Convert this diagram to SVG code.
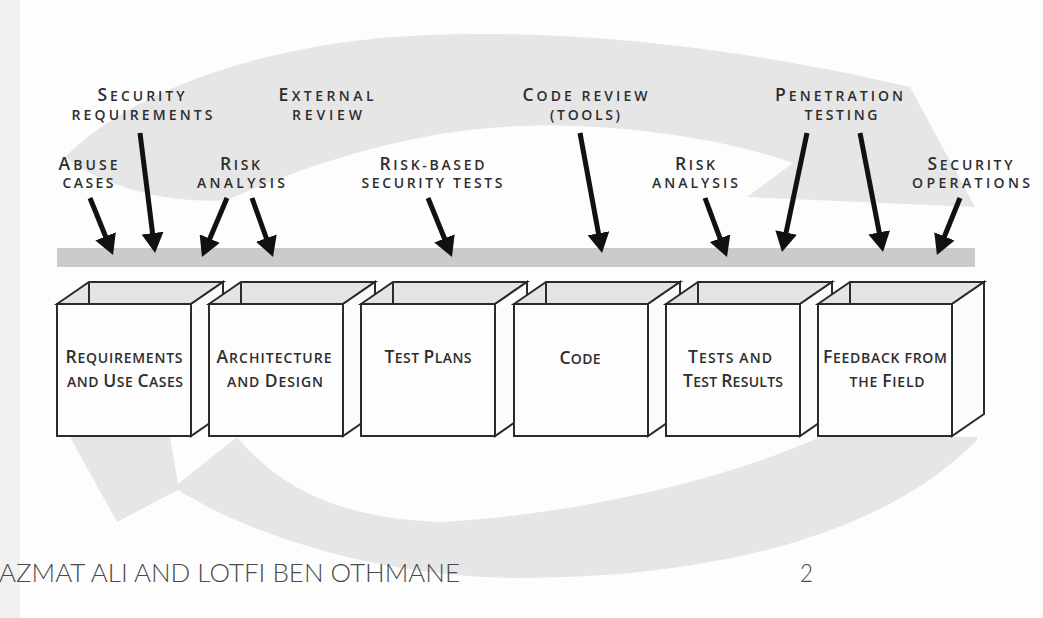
<svg xmlns="http://www.w3.org/2000/svg" width="1043" height="618" viewBox="0 0 1043 618">
  <style>
    .cyc { fill: #e6e6e6; }
    .bar { fill: #cbcbcb; }
    .lbl { font-family: "Open Sans", "Liberation Sans", sans-serif; font-weight: 600; font-size: 14px; fill: #2e2e2e; text-anchor: middle; }
    .lbl .i { font-size: 17.5px; }
    .front { fill: #fdfdfd; stroke: #2b2b2b; stroke-width: 2; stroke-linejoin: miter; }
    .side { fill: #fbfbfb; stroke: #2b2b2b; stroke-width: 2; stroke-linejoin: miter; }
    .top { fill: #e4e4e4; stroke: #2b2b2b; stroke-width: 2; stroke-linejoin: miter; }
    .edge { stroke: #2b2b2b; stroke-width: 2; }
    .arr { stroke: #111; stroke-width: 5; fill: none; marker-end: url(#head); }
    .foot { font-family: "Lato", "Liberation Sans", sans-serif; font-weight: 300; font-size: 26px; fill: #4a4a4a; }
  </style>
  <defs>
    <marker id="head" viewBox="0 0 20 22" refX="2" refY="11" markerWidth="20" markerHeight="22" markerUnits="userSpaceOnUse" orient="auto">
      <path d="M0,0 L20,11 L0,22 Z" fill="#111"/>
    </marker>
  </defs>

  <!-- page -->
  <rect x="0" y="0" width="1043" height="618" fill="#fdfdfd"/>
  <rect x="0" y="0" width="20" height="618" fill="#f1f1f1"/>

  <!-- cycle arrows behind the phases -->
  <g id="cycle">
    <path class="cyc" d="M65,157 C110,112 210,55 380,38 C520,27 700,38 910,87 L975,207 L747,197 L793,163 C700,130 560,118 470,130 C380,140 290,172 227,200 C180,204 110,192 65,157 Z"/>
    <path class="cyc" d="M70,437 L170,437 L178,484 L237,437 C275,482 330,518 440,522 C570,515 720,482 820,437 L977,437 L977,440 C880,540 700,578 520,578 C380,578 250,535 178,490 L117,522 Z"/>
  </g>

  <!-- timeline bar -->
  <rect id="timeline" class="bar" x="57" y="248" width="918" height="19"/>

  <!-- touchpoint labels -->
  <g id="touchpoints">
    <text class="lbl" x="141" y="101" textLength="87"><tspan class="i">S</tspan>ECURITY</text>
    <text class="lbl" x="142" y="120" textLength="141">REQUIREMENTS</text>
    <text class="lbl" x="326" y="101" textLength="95"><tspan class="i">E</tspan>XTERNAL</text>
    <text class="lbl" x="327" y="120" textLength="70">REVIEW</text>
    <text class="lbl" x="585" y="101" textLength="125"><tspan class="i">C</tspan>ODE REVIEW</text>
    <text class="lbl" x="585" y="120" textLength="70">(TOOLS)</text>
    <text class="lbl" x="839" y="101" textLength="128"><tspan class="i">P</tspan>ENETRATION</text>
    <text class="lbl" x="841" y="120" textLength="73">TESTING</text>
    <text class="lbl" x="88" y="170" textLength="59"><tspan class="i">A</tspan>BUSE</text>
    <text class="lbl" x="88" y="188" textLength="51">CASES</text>
    <text class="lbl" x="240" y="170" textLength="40"><tspan class="i">R</tspan>ISK</text>
    <text class="lbl" x="241" y="188" textLength="88">ANALYSIS</text>
    <text class="lbl" x="432" y="170" textLength="105"><tspan class="i">R</tspan>ISK-BASED</text>
    <text class="lbl" x="432" y="188" textLength="141">SECURITY TESTS</text>
    <text class="lbl" x="695" y="170" textLength="40"><tspan class="i">R</tspan>ISK</text>
    <text class="lbl" x="695" y="188" textLength="86">ANALYSIS</text>
    <text class="lbl" x="970" y="170" textLength="85"><tspan class="i">S</tspan>ECURITY</text>
    <text class="lbl" x="971" y="188" textLength="118">OPERATIONS</text>
  </g>

  <!-- connectors: touchpoint arrows onto the timeline -->
  <g id="connectors">
    <line class="arr" x1="90" y1="198" x2="106.3" y2="238.3"/>
    <line class="arr" x1="140" y1="133" x2="152.8" y2="235.1"/>
    <line class="arr" x1="227" y1="198" x2="209.0" y2="240.4"/>
    <line class="arr" x1="252" y1="198" x2="267.0" y2="240.0"/>
    <line class="arr" x1="428" y1="198" x2="445.2" y2="240.3"/>
    <line class="arr" x1="580" y1="133" x2="598.8" y2="235.3"/>
    <line class="arr" x1="705" y1="198" x2="720.7" y2="240.1"/>
    <line class="arr" x1="807" y1="133" x2="785.7" y2="234.4"/>
    <line class="arr" x1="860" y1="133" x2="879.6" y2="234.3"/>
    <line class="arr" x1="960" y1="198" x2="943.7" y2="238.3"/>
  </g>

  <!-- lifecycle phases as open boxes -->
  <g id="phase-requirements">
    <polygon class="top" points="57,304 89,282 223,282 191,304"/>
    <line class="edge" x1="89" y1="282" x2="89" y2="304"/>
    <polygon class="side" points="191,304 223,282 223,414 191,436"/>
    <rect class="front" x="57" y="304" width="134" height="132"/>
    <text class="lbl" x="124" y="363" textLength="117"><tspan class="i">R</tspan>EQUIREMENTS</text>
    <text class="lbl" x="125" y="387" textLength="116">AND <tspan class="i">U</tspan>SE <tspan class="i">C</tspan>ASES</text>
  </g>
  <g id="phase-architecture">
    <polygon class="top" points="209,304 241,282 375,282 343,304"/>
    <line class="edge" x1="241" y1="282" x2="241" y2="304"/>
    <polygon class="side" points="343,304 375,282 375,414 343,436"/>
    <rect class="front" x="209" y="304" width="134" height="132"/>
    <text class="lbl" x="274" y="363" textLength="115"><tspan class="i">A</tspan>RCHITECTURE</text>
    <text class="lbl" x="275" y="387" textLength="96">AND <tspan class="i">D</tspan>ESIGN</text>
  </g>
  <g id="phase-test-plans">
    <polygon class="top" points="361,304 393,282 527,282 495,304"/>
    <line class="edge" x1="393" y1="282" x2="393" y2="304"/>
    <polygon class="side" points="495,304 527,282 527,414 495,436"/>
    <rect class="front" x="361" y="304" width="134" height="132"/>
    <text class="lbl" x="428" y="363" textLength="87"><tspan class="i">T</tspan>EST <tspan class="i">P</tspan>LANS</text>
  </g>
  <g id="phase-code">
    <polygon class="top" points="514,304 546,282 680,282 648,304"/>
    <line class="edge" x1="546" y1="282" x2="546" y2="304"/>
    <polygon class="side" points="648,304 680,282 680,414 648,436"/>
    <rect class="front" x="514" y="304" width="134" height="132"/>
    <text class="lbl" x="580" y="364" textLength="41"><tspan class="i">C</tspan>ODE</text>
  </g>
  <g id="phase-tests">
    <polygon class="top" points="666,304 698,282 832,282 800,304"/>
    <line class="edge" x1="698" y1="282" x2="698" y2="304"/>
    <polygon class="side" points="800,304 832,282 832,414 800,436"/>
    <rect class="front" x="666" y="304" width="134" height="132"/>
    <text class="lbl" x="730" y="363" textLength="84"><tspan class="i">T</tspan>ESTS AND</text>
    <text class="lbl" x="733" y="387" textLength="100"><tspan class="i">T</tspan>EST <tspan class="i">R</tspan>ESULTS</text>
  </g>
  <g id="phase-feedback">
    <polygon class="top" points="818,304 850,282 984,282 952,304"/>
    <line class="edge" x1="850" y1="282" x2="850" y2="304"/>
    <polygon class="side" points="952,304 984,282 984,414 952,436"/>
    <rect class="front" x="818" y="304" width="134" height="132"/>
    <text class="lbl" x="885" y="363" textLength="124"><tspan class="i">F</tspan>EEDBACK FROM</text>
    <text class="lbl" x="887" y="387" textLength="75">THE <tspan class="i">F</tspan>IELD</text>
  </g>

  <!-- footer -->
  <g id="footer">
    <text class="foot" x="-1" y="582" textLength="461" lengthAdjust="spacingAndGlyphs">AZMAT ALI AND LOTFI BEN OTHMANE</text>
    <text class="foot" x="800" y="582" textLength="13" lengthAdjust="spacingAndGlyphs">2</text>
  </g>
</svg>
